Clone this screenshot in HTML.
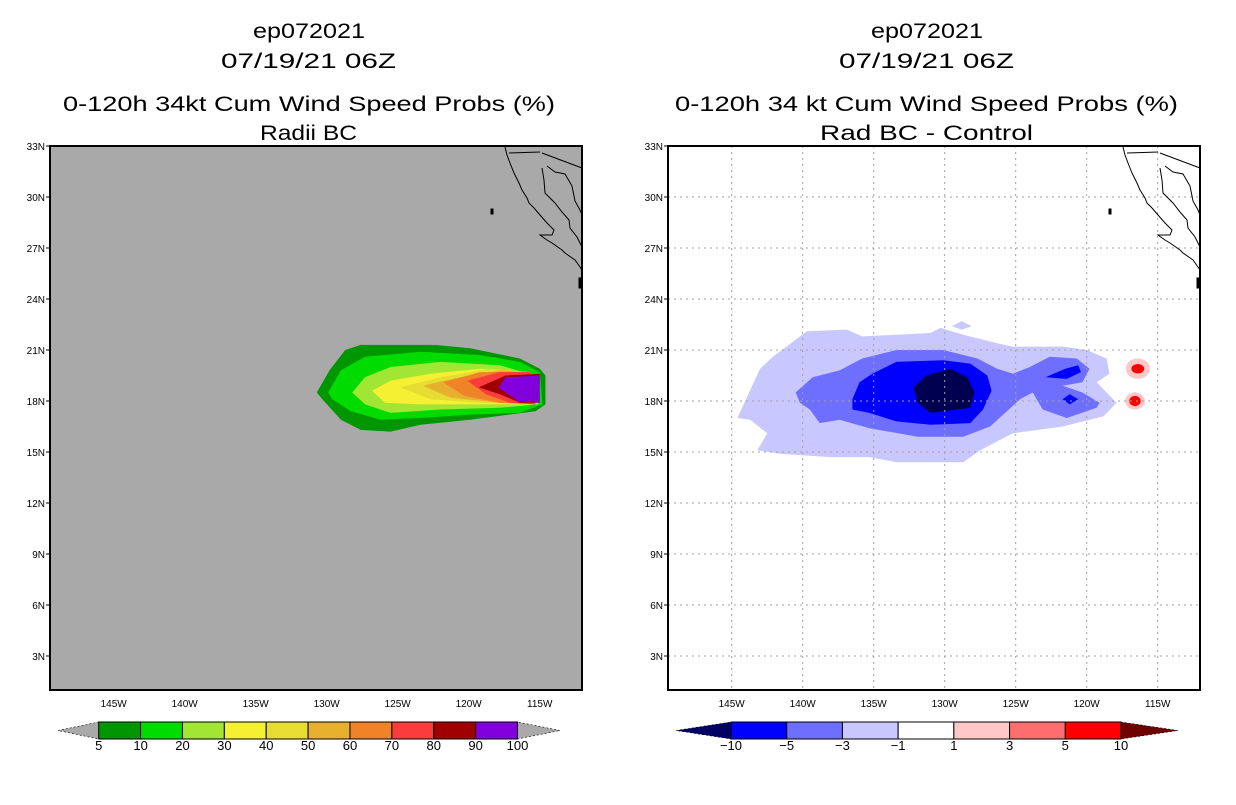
<!DOCTYPE html>
<html><head><meta charset="utf-8"><style>
html,body{margin:0;padding:0;background:#fff;}
svg text{font-family:"Liberation Sans","DejaVu Sans",sans-serif;fill:#000;}
</style></head><body>
<svg id="chart" xmlns="http://www.w3.org/2000/svg" width="1236" height="800" viewBox="0 0 1236 800">
<g id="root"></g>
</svg>
<script>
// ---- data (lon in degrees W, lat in degrees N) ----
const latTicks = [33,30,27,24,21,18,15,12,9,6,3];
const lonTicks = [145,140,135,130,125,120,115];
const leftLevels = ['5','10','20','30','40','50','60','70','80','90','100'];
const leftColors = ['#009600','#00dc00','#a0e632','#f5f032','#e6dc32','#e6af2d','#f08228','#fa3c3c','#a00000','#8200dc'];
const rightLevels = ['-10','-5','-3','-1','1','3','5','10'];
const rightColors = ['#000064','#0000ff','#6e6eff','#c8c8ff','#ffffff','#ffc8c8','#ff6e6e','#ff0000','#6e0000'];

const c5 = [[130.7,18.5],[129.8,19.8],[128.7,21.0],[127.6,21.3],[122.4,21.3],[119.9,21.1],[116.4,20.5],[115.0,19.9],[114.6,19.5],[114.6,17.8],[115.3,17.4],[119.9,16.9],[123.4,16.6],[125.5,16.2],[127.6,16.3],[129.0,16.9],[130.3,18.1]];
const c10 = [[129.9,18.5],[129.0,19.8],[127.3,20.6],[123.4,20.9],[119.2,20.7],[116.4,20.3],[115.0,19.7],[114.8,17.8],[116.4,17.3],[119.9,17.2],[123.4,17.0],[126.2,16.9],[128.3,17.4],[129.6,18.1]];
const c20 = [[128.2,18.5],[127.3,19.4],[125.5,20.0],[122.0,20.3],[117.8,20.1],[115.3,19.5],[115.1,17.8],[117.8,17.6],[122.0,17.5],[125.5,17.3],[127.3,17.8]];
const c30 = [[126.8,18.6],[125.5,19.2],[122.7,19.6],[119.2,19.9],[115.7,19.7],[115.3,17.8],[119.2,17.8],[123.4,17.8],[125.9,17.9]];
const c40 = [[124.8,18.8],[122.0,19.4],[118.5,19.9],[115.7,19.7],[115.3,17.8],[119.2,17.9],[122.7,18.1]];
const c50 = [[123.2,18.9],[120.6,19.4],[117.8,19.8],[115.7,19.7],[115.3,17.8],[117.8,17.9],[121.3,18.2]];
const c60 = [[121.8,19.1],[119.2,19.7],[115.7,19.7],[115.3,17.8],[117.8,17.9],[120.3,18.3]];
const c70 = [[120.1,19.2],[117.8,19.7],[115.7,19.7],[115.3,17.8],[117.1,17.9],[118.8,18.4]];
const c80 = [[119.3,18.8],[117.4,19.5],[115.0,19.6],[115.0,17.9],[116.4,17.9],[117.8,18.4]];
const c90 = [[117.9,18.8],[117.4,19.4],[115.0,19.5],[115.0,17.9],[116.5,18.0],[117.4,18.5]];
const leftContours = [c5,c10,c20,c30,c40,c50,c60,c70,c80,c90];

const dm1 = [[144.6,17.0],[143.0,19.9],[142.1,20.6],[139.7,22.1],[136.9,22.2],[135.8,21.8],[131.0,22.0],[130.3,22.3],[128.7,21.9],[126.3,21.4],[125.2,21.2],[121.7,21.2],[120.0,21.0],[118.6,20.5],[118.4,19.6],[119.3,19.1],[117.9,17.9],[118.8,17.1],[121.7,16.5],[125.2,16.1],[127.5,15.1],[128.7,14.4],[133.4,14.4],[135.3,14.7],[138.1,14.7],[141.6,14.9],[143.2,15.1],[142.5,16.1],[143.7,16.9]];
const dm1b = [[129.5,22.4],[128.8,22.7],[128.1,22.4],[128.8,22.2]];
const dm3 = [[140.5,18.5],[139.3,19.4],[137.4,19.8],[135.8,20.5],[133.4,21.0],[130.1,21.0],[127.7,20.5],[126.3,19.9],[125.2,19.6],[124.0,20.0],[122.6,20.6],[120.7,20.5],[119.8,19.9],[120.3,19.1],[121.7,18.9],[120.3,18.5],[119.1,17.9],[119.3,17.6],[121.4,17.0],[123.1,17.5],[123.8,18.5],[124.7,18.1],[126.8,16.5],[128.7,15.9],[131.9,15.9],[135.3,16.4],[137.4,16.9],[138.8,16.7],[139.5,17.5],[140.2,17.9]];
const dm5 = [[136.5,18.1],[136.0,19.1],[135.1,19.6],[133.4,20.3],[130.1,20.4],[128.2,20.2],[127.0,19.5],[126.7,18.6],[127.3,17.5],[128.2,16.7],[131.0,16.6],[133.4,16.8],[135.3,17.3],[136.5,17.5]];
const dm5b = [[122.9,19.4],[121.5,19.9],[120.6,20.1],[120.4,19.7],[121.4,19.3]];
const dm5c = [[121.7,18.1],[121.2,18.4],[120.6,18.1],[121.2,17.8]];
const dm10 = [[132.2,18.8],[131.3,19.5],[129.6,19.9],[128.4,19.4],[127.9,18.5],[128.2,17.6],[131.0,17.3],[131.9,17.9]];
const rightContours = [[dm1,'#c8c8ff'],[dm1b,'#c8c8ff'],[dm3,'#6e6eff'],[dm5,'#0000ff'],[dm5b,'#0000ff'],[dm5c,'#0000ff'],[dm10,'#000050']];
// positive blobs: [lonW, lat, rx deg, ry deg, color]
const posBlobs = [[116.4,19.9,0.85,0.6,'#ffc8c8'],[116.4,19.9,0.45,0.28,'#ff0000'],[116.6,18.0,0.7,0.5,'#ffc8c8'],[116.6,18.0,0.4,0.3,'#ff0000']];

// ---- axis functions ----
const PW=532, PH=544, Y0=146;
function xs(X0, lonW){ return X0 + (149.486 - lonW)*14.2; }
function ys(lat){ return Y0 + (33 - lat)*17; }

const NS='http://www.w3.org/2000/svg';
const root=document.getElementById('root');
function el(tag, attrs, parent){ const e=document.createElementNS(NS,tag); for(const k in attrs) e.setAttribute(k,attrs[k]); (parent||root).appendChild(e); return e; }
function txt(s, attrs, parent){ const t=el('text',attrs,parent); t.textContent=s; return t; }
function poly(X0, pts){ return pts.map(p=>xs(X0,p[0]).toFixed(1)+','+ys(p[1]).toFixed(1)).join(' '); }

// coastline (pixel offsets relative to frame left)
const coastMain=[[455,1],[457,9],[460,17],[464,27],[469,37],[472,44],[477,52],[479,57],[484,62],[490,69],[497,77],[504,84],[502,89],[499,89],[490,89],[497,94],[502,97],[512,104],[515,107],[525,114],[530,121],[532,124]];
const coastGulf=[[492,22],[494,34],[495,47],[505,57],[512,66],[519,74],[520,82],[527,91],[532,101]];
const coastMain2=[[497,20],[505,26],[515,28],[522,40],[525,55],[530,64],[532,69]];
const border1=[[459,7],[490,6]];
const border2=[[492,7],[532,22]];

function panel(X0, side){
  const g=el('g',{});
  
  
  const bg=el('rect',{x:X0,y:Y0,width:PW,height:PH,fill: side==='left'?'#a9a9a9':'#ffffff'},g);
  
  
  const cg=el('g',{},g);
  
  
  if(side==='left'){
    leftContours.forEach((c,i)=>{
      const p=el('polygon',{points:poly(X0,c),fill:leftColors[i]},cg);
      
      
    });
  } else {
    rightContours.forEach((c,i)=>{
      const p=el('polygon',{points:poly(X0,c[0]),fill:c[1]},cg);
      
      
    });
    posBlobs.forEach((b,i)=>{
      const e=el('ellipse',{cx:xs(X0,b[0]),cy:ys(b[1]),rx:b[2]*14.2,ry:b[3]*17,fill:b[4]},cg);
      
      
    });
  }
  // grid
  const gg=el('g',{stroke: side==='left'?'#b8b8b8':'#a0a0a0','stroke-width':1,'stroke-dasharray':'2,4',fill:'none'},g);
  
  
  if(side==='right'){
    lonTicks.forEach(l=>{ el('line',{x1:xs(X0,l),x2:xs(X0,l),y1:Y0,y2:Y0+PH},gg); });
    latTicks.forEach(l=>{ el('line',{x1:X0,x2:X0+PW,y1:ys(l),y2:ys(l)},gg); });
  }
  // coast
  const cst=el('g',{stroke:'#000','stroke-width':1,fill:'none'},g);
  
  
  [coastMain,coastGulf,coastMain2,border1,border2].forEach(l=>{
    el('polyline',{points:l.map(p=>(X0+p[0])+','+(Y0+p[1])).join(' ')},cst);
  });
  el('rect',{x:X0+441,y:Y0+63,width:2,height:5,fill:'#000'},cst);
  el('rect',{x:X0+529,y:Y0+132,width:3,height:10,fill:'#000'},cst);
  // frame
  const fr=el('rect',{x:X0,y:Y0,width:PW,height:PH,fill:'none',stroke:'#000','stroke-width':2},g);
  
  
  // lat labels
  const la=el('g',{},g);
  
  
  latTicks.forEach(l=>{
    el('line',{x1:X0-4,x2:X0,y1:ys(l),y2:ys(l),stroke:'#000'},la);
    const t=txt(l+'N',{x:X0-5,y:ys(l)+4,'font-size':10,'text-anchor':'end'},la);
    
    
  });
  const lo=el('g',{},g);
  
  
  lonTicks.forEach(l=>{
    const t=txt(l+'W',{x:xs(X0,l),y:707,'font-size':10,'text-anchor':'middle'},lo);
    
    
  });
}
panel(50,'left');
panel(668,'right');

// titles
function title(s,cx,y,w,name){
  const t=txt(s,{x:cx-w/2,y:y,'font-size':21,textLength:w,lengthAdjust:'spacingAndGlyphs'});
  
  
}
title('ep072021',309,38,112,'left-storm-id');
title('07/19/21 06Z',308.5,68,175,'left-date');
title('0-120h 34kt Cum Wind Speed Probs (%)',309,111,492,'left-title');
title('Radii BC',308.5,140,97,'left-subtitle');
title('ep072021',927,38,112,'right-storm-id');
title('07/19/21 06Z',926.5,68,175,'right-date');
title('0-120h 34 kt Cum Wind Speed Probs (%)',926.5,111,503,'right-title');
title('Rad BC - Control',926.5,140,213,'right-subtitle');

// colorbars
function colorbar(x0,x1,tipL,tipR,colors,labels,triL,triR,name,boxes){
  const g=el('g',{});
  
  
  const y0=722,y1=739,ym=730.5;
  const w=(x1-x0)/boxes;
  el('polygon',{points:`${tipL},${ym} ${x0},${y0} ${x0},${y1}`,fill:triL,stroke:'#000','stroke-width':0.6,'stroke-dasharray':'2,2'},g);
  el('polygon',{points:`${tipR},${ym} ${x1},${y0} ${x1},${y1}`,fill:triR,stroke:'#000','stroke-width':0.6,'stroke-dasharray':'2,2'},g);
  for(let i=0;i<boxes;i++){
    const r=el('rect',{x:x0+i*w,y:y0,width:w,height:y1-y0,fill:colors[i],stroke:'#000','stroke-width':1},g);
    
    
  }
  labels.forEach((s,i)=>{
    const t=txt(s.replace('-','\u2212'),{x:x0+i*w,y:750,'font-size':13,'text-anchor':'middle'},g);
    
    
  });
}
colorbar(98.7,517.5,58,560,leftColors,leftLevels,'#a9a9a9','#a9a9a9','left-colorbar',10);
colorbar(731,1121,676,1178,rightColors.slice(1,8),rightLevels,rightColors[0],rightColors[8],'right-colorbar',7);
</script>
</body></html>
